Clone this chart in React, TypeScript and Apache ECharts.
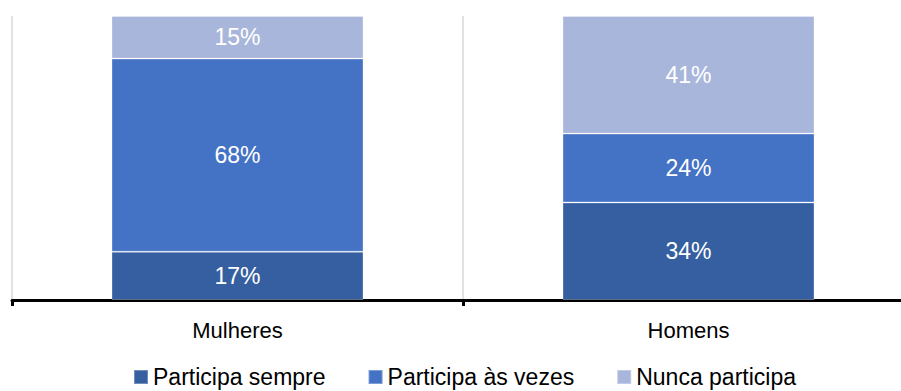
import React, { useEffect, useRef } from "react";
import * as echarts from "echarts";

const categories = ["Mulheres", "Homens"];
const seriesNames = ["Participa sempre", "Participa às vezes", "Nunca participa"];
const sempre = [17, 34];
const asVezes = [68, 24];
const nunca = [15, 41];
const colors = ["#355FA0", "#4472C4", "#A9B6DB"];

export default function App() {
  const ref = useRef<HTMLDivElement>(null);
  useEffect(() => {
    if (!ref.current) return;
    const chart = echarts.init(ref.current, undefined, { renderer: "svg" });
    const raw = [sempre, asVezes, nunca];
    const totals = categories.map((_, i) => raw.reduce((s, arr) => s + arr[i], 0));
    const series = raw.map((arr, si) => ({
      name: seriesNames[si],
      type: "bar" as const,
      stack: "total",
      barWidth: 252,
      data: arr.map((v, i) => ({ value: (v / totals[i]) * 100, raw: v })),
      itemStyle: { color: colors[si], borderColor: "rgba(255,255,255,0.3)", borderWidth: 1 },
      label: {
        show: true,
        position: "inside",
        color: "#ffffff",
        fontFamily: "Liberation Sans, Arial, sans-serif",
        fontSize: 23,
        formatter: (p: any) => `${p.data.raw}%`,
      },
    }));
    chart.setOption({
      animation: false,
      color: colors,
      grid: { left: 12, right: 6, top: 16, bottom: 91 },
      legend: {
        data: seriesNames,
        bottom: 0,
        left: 128,
        padding: [0, 5, 1, 5],
        itemWidth: 14,
        itemHeight: 14,
        itemGap: 42,
        icon: "rect",
        textStyle: { fontFamily: "Liberation Sans, Arial, sans-serif", fontSize: 23, lineHeight: 26, color: "#000" },
      },
      xAxis: {
        type: "category",
        data: categories,
        axisLine: { lineStyle: { color: "#000", width: 3 } },
        axisTick: { show: true, length: 6, lineStyle: { color: "#000", width: 3 } },
        splitLine: { show: true, lineStyle: { color: "#D9D9D9", width: 1.5 } },
        axisLabel: {
          margin: 19,
          fontFamily: "Liberation Sans, Arial, sans-serif",
          fontSize: 22,
          color: "#000",
        },
      },
      yAxis: {
        type: "value",
        min: 0,
        max: 100,
        show: false,
        splitLine: { show: false },
      },
      series,
    });
    return () => chart.dispose();
  }, []);
  return (
    <div style={{ position: "fixed", left: 0, top: 0, width: 901, height: 391, overflow: "hidden", background: "#fff" }}>
      <div ref={ref} style={{ position: "absolute", left: 0, top: 0, width: 920, height: 391 }} />
    </div>
  );
}
